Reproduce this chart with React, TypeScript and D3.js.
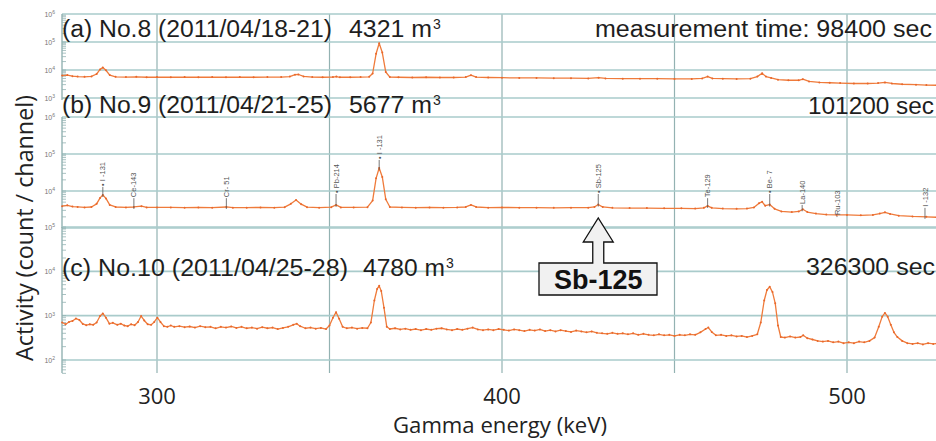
import * as d3 from 'd3';

// energy axis
const energyTicks = [300, 400, 500];
const gridEnergies = [300, 350, 400, 450, 500];

// (a) No.8 spectrum: [keV, count/channel]
const spectrumA: [number, number][] = [
  [272.5, 6300], [274, 6600], [275.5, 6000], [277, 5800], [279, 5700], [281, 5900], [282.5, 7200],
  [283.5, 10500], [284.3, 12300], [285.2, 9800], [286.3, 6600], [288, 5700], [291, 5600], [294, 5700],
  [297, 5500], [300, 5600], [304, 5500], [308, 5600], [312, 5500], [316, 5600], [320, 5500], [324, 5600],
  [328, 5500], [332, 5600], [336, 5600], [338.5, 5800], [340, 6800], [341, 6900], [342.5, 5900],
  [345, 5600], [348, 5500], [351, 5600], [352, 5800], [353, 5500], [356, 5500], [359, 5600], [361.5, 5700],
  [362.5, 7500], [363.5, 38000], [364.4, 90000], [365.3, 42000], [366.3, 8500], [367.5, 5600], [370, 5500],
  [374, 5400], [378, 5500], [382, 5400], [386, 5400], [389.5, 5600], [391, 6500], [392.5, 5600], [396, 5400],
  [400, 5300], [405, 5200], [410, 5200], [415, 5100], [420, 5100], [425, 5000], [428, 5300], [430, 5000],
  [435, 4900], [440, 4900], [445, 4900], [450, 4800], [455, 4800], [458, 5000], [459.6, 5800], [461, 5000],
  [464, 4900], [468, 4800], [472, 4900], [474, 5800], [475.4, 7600], [476.5, 5800], [478, 5200], [480, 4500],
  [483, 4300], [486, 4300], [487.2, 4700], [489, 3900], [492, 3600], [495, 3500], [498, 3400], [502, 3300],
  [506, 3300], [509, 3400], [511, 3600], [513, 3300], [516, 3100], [520, 3000], [523, 2900], [526, 2850],
];

// (b) No.9 spectrum
const spectrumB: [number, number][] = [
  [272.5, 3900], [274, 4100], [275.5, 3800], [277, 3700], [279, 3600], [281, 3700], [282.5, 4500],
  [283.5, 6500], [284.3, 7800], [285.2, 6300], [286.3, 4200], [288, 3700], [291, 3600], [293.3, 3700],
  [295.5, 3900], [297, 3600], [300, 3600], [304, 3600], [308, 3550], [312, 3600], [316, 3550], [320.1, 3700],
  [322, 3550], [326, 3550], [330, 3600], [334, 3550], [337, 3650], [338.8, 4500], [340.3, 5700], [341.8, 4400],
  [343.5, 3650], [347, 3550], [350.5, 3650], [351.9, 4200], [353.3, 3600], [357, 3600], [361, 3650],
  [362.5, 5500], [363.5, 22000], [364.4, 42000], [365.3, 24000], [366.3, 6000], [367.5, 3700], [371, 3600],
  [375, 3550], [379, 3600], [383, 3550], [387, 3600], [389.5, 3700], [391, 4200], [392.5, 3700], [396, 3550],
  [400, 3600], [405, 3550], [410, 3550], [415, 3500], [420, 3550], [425, 3550], [426.8, 3700], [427.9, 4300],
  [429.2, 3700], [432, 3500], [437, 3450], [442, 3450], [447, 3400], [452, 3400], [456, 3350], [458.5, 3500],
  [459.6, 3950], [460.8, 3500], [464, 3350], [468, 3300], [471, 3350], [473, 3600], [474.5, 4700],
  [475.4, 5100], [476.3, 4000], [477.6, 4300], [479, 3300], [481, 2800], [484, 2700], [486, 2800],
  [487.2, 3200], [488.5, 2700], [491, 2450], [494, 2300], [497, 2250], [500, 2250], [504, 2200],
  [507.5, 2250], [509.5, 2450], [511, 2650], [512.5, 2400], [515, 2150], [519, 2050], [523, 2000], [526, 1950],
];

// (c) No.10 spectrum
const spectrumC: [number, number][] = [
  [272.5, 700], [273.5, 640], [274.5, 720], [275.5, 760], [276.5, 860], [277.5, 800], [278.5, 650],
  [279.5, 610], [280.5, 640], [281.5, 620], [282.5, 700], [283.5, 980], [284.3, 1120], [285.2, 900],
  [286.2, 660], [287.2, 690], [288.5, 620], [289.5, 660], [290.5, 600], [291.5, 580], [292.5, 640],
  [293.5, 610], [294.5, 720], [295.4, 980], [296.3, 780], [297.3, 640], [298.3, 620], [299.2, 720],
  [300.1, 900], [301, 720], [302, 580], [303, 560], [304, 600], [305, 560], [306.5, 580], [308, 550],
  [309.5, 570], [311, 540], [312.5, 580], [314, 550], [315.5, 560], [317, 520], [318.5, 560], [320, 540],
  [321.5, 570], [323, 530], [324.5, 560], [326, 520], [327.5, 540], [329, 510], [330.5, 550], [332, 520],
  [333.5, 540], [335, 500], [336.5, 530], [338, 560], [339.5, 620], [340.5, 660], [341.5, 580], [343, 520],
  [344.5, 540], [346, 510], [347.5, 530], [349, 500], [350, 600], [351, 900], [351.9, 1200], [352.8, 850],
  [353.8, 560], [355, 520], [356.5, 540], [358, 510], [359.5, 530], [361, 520], [362, 700], [363, 2200],
  [363.8, 4000], [364.4, 4700], [365, 3600], [365.8, 1500], [366.6, 560], [367.5, 500], [369, 520],
  [370.5, 490], [372, 510], [373.5, 480], [375, 500], [376.5, 470], [378, 500], [379.5, 480], [381, 510],
  [382.5, 520], [384, 490], [385.5, 470], [387, 500], [388.5, 480], [390, 510], [391.5, 540], [393, 490],
  [394.5, 470], [396, 490], [397.5, 470], [399, 500], [400.5, 480], [402, 460], [403.5, 490], [405, 470],
  [406.5, 450], [408, 480], [409.5, 460], [411, 490], [412.5, 450], [414, 470], [415.5, 440], [417, 470],
  [418.5, 450], [420, 430], [421.5, 460], [423, 440], [424.5, 420], [426, 440], [427.5, 410], [429, 400],
  [430.5, 390], [432, 410], [433.5, 390], [435, 400], [436.5, 380], [438, 400], [439.5, 370], [441, 390],
  [442.5, 370], [444, 360], [445.5, 380], [447, 360], [448.5, 370], [450, 350], [451.5, 370], [453, 360],
  [454.5, 380], [456, 370], [457.5, 420], [459, 500], [459.8, 540], [460.8, 430], [462, 360], [463.5, 370],
  [465, 350], [466.5, 360], [468, 340], [469.5, 350], [471, 330], [472.5, 350], [474, 380], [475, 700],
  [476, 2200], [476.8, 3800], [477.6, 4500], [478.4, 3400], [479.2, 1900], [480, 600], [480.8, 330],
  [482, 320], [483.5, 340], [485, 320], [486.5, 330], [487.3, 360], [488.5, 310], [490, 290], [491.5, 270],
  [493, 260], [494.5, 270], [496, 250], [497.5, 260], [499, 240], [500.5, 250], [502, 240], [503.5, 260],
  [505, 250], [506.5, 270], [508, 320], [509.2, 560], [510.2, 950], [511, 1150], [511.8, 950], [512.7, 620],
  [513.6, 420], [514.6, 330], [516, 270], [517.5, 240], [519, 230], [520.5, 240], [522, 225], [523.5, 240],
  [525, 230], [526, 235],
];

// nuclide labels in (b): energy, count level where the label starts
const peakLabels = [
  { name: '\u2022 I -131', energy: 284.3, at: 12900 },
  { name: 'Ce-143', energy: 293.3, at: 6400 },
  { name: 'Cr- 51', energy: 320.1, at: 6400 },
  { name: '\u2022 Pb-214', energy: 351.9, at: 8300 },
  { name: '\u2022 I -131', energy: 364.4, at: 69000 },
  { name: '\u2022 Sb-125', energy: 427.9, at: 8300 },
  { name: 'Te-129', energy: 459.6, at: 6400 },
  { name: '\u2022 Be-  7', energy: 477.6, at: 8300 },
  { name: 'La-140', energy: 487.0, at: 4200 },
  { name: 'Ru-103', energy: 497.1, at: 2100 },
  { name: 'I -132', energy: 522.6, at: 3500 },
];

const panelTitles = ['(a) No.8 (2011/04/18-21)', '(b) No.9 (2011/04/21-25)', '(c) No.10 (2011/04/25-28)'];
const volumes = ['4321', '5677', '4780'];
const times = ['measurement time: 98400 sec', '101200 sec', '326300 sec'];

const W = 936;
const H = 441;
const left = 62;
const gridTop = 14;
const gridBottom = 373;

const ORANGE = '#ef7b3b';
const HGRID = '#a9cbcb';
const VGRID = '#93b2b2';
const FONT = '"Liberation Sans", Arial, sans-serif';
const FONT2 = '"Open Sans", "DejaVu Sans", sans-serif';

const x = d3.scaleLinear().domain([300, 500]).range([157, 847]);

const panels = [
  { data: spectrumA, scale: d3.scaleLog().domain([1e3, 1e6]).range([98, 14]), axis: [14, 100], decades: [3, 4, 5, 6], labelled: [3, 4, 5, 6], lo: 3,
    titleY: 37, titleLen: 270, volX: 349, volLen: 83, timeX: 595, timeLen: 337, timeY: 37 },
  { data: spectrumB, scale: d3.scaleLog().domain([1e3, 1e6]).range([228, 117]), axis: [117, 228], decades: [3, 4, 5, 6], labelled: [4, 5, 6], lo: 3,
    titleY: 113, titleLen: 270, volX: 349, volLen: 83, timeX: 808, timeLen: 126, timeY: 114 },
  { data: spectrumC, scale: d3.scaleLog().domain([1e2, 1e5]).range([360, 227]), axis: [227, 373], decades: [2, 3, 4, 5], labelled: [2, 3, 4, 5], lo: 1,
    titleY: 276, titleLen: 286, volX: 363, volLen: 82, timeX: 806, timeLen: 129, timeY: 275 },
];

function Panel({ p }: { p: typeof panels[number] }) {
  const y = p.scale;
  const line = d3.line<[number, number]>()
    .x(d => x(d[0]))
    .y(d => y(d[1]))(p.data);

  // minor log ticks
  const minor: number[] = [];
  for (let d = p.lo; d < 6; d++) {
    for (let k = 1; k <= 9; k++) {
      const yy = y(k * Math.pow(10, d));
      if (yy >= p.axis[0] - 0.5 && yy <= p.axis[1] + 0.5) minor.push(yy);
    }
  }

  return (
    <g>
      {p.decades.map(d => (
        <line key={'h' + d} x1={left} x2={W} y1={y(Math.pow(10, d))} y2={y(Math.pow(10, d))} stroke={HGRID} strokeWidth={1.6} />
      ))}
      <line x1={left} x2={left} y1={p.axis[0]} y2={p.axis[1]} stroke={VGRID} strokeWidth={1.4} />
      {minor.map((yy, k) => (
        <line key={'m' + k} x1={left} x2={left + 4} y1={yy} y2={yy} stroke={VGRID} strokeWidth={0.8} />
      ))}
      {p.labelled.map(d => (
        <text key={'t' + d} x={55} y={y(Math.pow(10, d)) + 2.5} textAnchor="end" fill="#777" style={{ font: `7px ${FONT}` }}>
          10<tspan dy={-2.5} fontSize={5}>{d}</tspan>
        </text>
      ))}
      <path d={line || ''} fill="none" stroke={ORANGE} strokeWidth={1.3} strokeLinejoin="round" />
      {p.data.map((d, k) => (
        <circle key={'c' + k} cx={x(d[0])} cy={y(d[1])} r={1} fill="#e9682c" />
      ))}
    </g>
  );
}

function PanelText({ p, i }: { p: typeof panels[number]; i: number }) {
  return (
    <g fill="#1e1e1e" style={{ font: `23px ${FONT}` }}>
      <text x={left} y={p.titleY} textLength={p.titleLen} lengthAdjust="spacingAndGlyphs">{panelTitles[i]}</text>
      <text x={p.volX} y={p.titleY} textLength={p.volLen} lengthAdjust="spacingAndGlyphs">{volumes[i]} m</text>
      <text x={p.volX + p.volLen + 1} y={p.titleY - 8} style={{ font: `14px ${FONT}` }}>3</text>
      <text x={p.timeX} y={p.timeY} textLength={p.timeLen} lengthAdjust="spacingAndGlyphs">{times[i]}</text>
    </g>
  );
}

export default function App() {
  const yb = panels[1].scale;
  const nearest = (e: number) => {
    let best = spectrumB[0];
    for (const d of spectrumB) if (Math.abs(d[0] - e) < Math.abs(best[0] - e)) best = d;
    return best[1];
  };

  // Sb-125 callout, tip sits on the Sb-125 energy
  const tx = x(427.9);
  const tipY = 218, headY = 242, boxTop = 263, boxBot = 295;
  const callout = [
    [539, boxBot], [539, boxTop], [tx - 5.5, boxTop], [tx - 5.5, headY], [tx - 15, headY], [tx, tipY],
    [tx + 15, headY], [tx + 5.5, headY], [tx + 5.5, boxTop], [657, boxTop], [657, boxBot],
  ].map(d => d.join(',')).join(' ');

  return (
    <svg width={W} height={H} style={{ display: 'block', position: 'absolute', left: 0, top: 0, background: '#fff' }}>
      <rect width={W} height={H} fill="#fff" />
      {gridEnergies.map(e => (
        <line key={'v' + e} x1={x(e)} x2={x(e)} y1={gridTop} y2={gridBottom} stroke={VGRID} strokeWidth={1.2} />
      ))}
      {panels.map((p, i) => <Panel key={i} p={p} />)}

      {peakLabels.map(l => {
        const xx = x(l.energy);
        const base = yb(nearest(l.energy));
        const top = yb(l.at);
        return (
          <g key={l.name + l.energy}>
            <line x1={xx} x2={xx} y1={Math.max(base + 2, top + 1)} y2={top} stroke="#555" strokeWidth={0.8} />
            <text transform={`translate(${xx + 2.6},${top - 1}) rotate(-90)`} fill="#555" style={{ font: `7.5px ${FONT}` }}>
              {l.name}
            </text>
          </g>
        );
      })}

      {panels.map((p, i) => <PanelText key={'pt' + i} p={p} i={i} />)}

      <polygon points={callout} fill="#f1f1f1" stroke="#111" strokeWidth={1.3} />
      <text x={tx} y={289} textAnchor="middle" fill="#111" style={{ font: `bold 27px ${FONT}` }}>Sb-125</text>

      {energyTicks.map(e => (
        <text key={'xt' + e} x={x(e)} y={404} textAnchor="middle" fill="#222" style={{ font: `22px ${FONT2}` }}>{e}</text>
      ))}
      <text x={500} y={433} textAnchor="middle" fill="#222" textLength={214} lengthAdjust="spacingAndGlyphs" style={{ font: `21px ${FONT2}` }}>Gamma energy (keV)</text>
      <text transform="translate(33,228) rotate(-90)" textAnchor="middle" fill="#222" textLength={266} lengthAdjust="spacingAndGlyphs" style={{ font: `23px ${FONT2}` }}>
        Activity (count / channel)
      </text>
    </svg>
  );
}
